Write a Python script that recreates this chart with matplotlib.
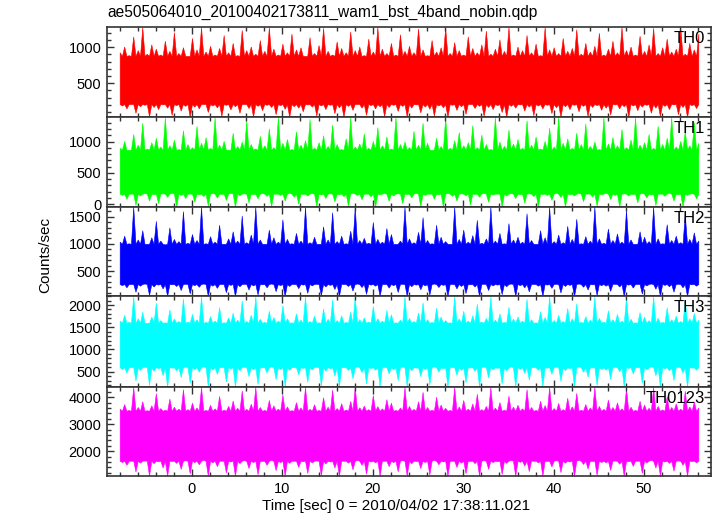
import numpy as np
import matplotlib.pyplot as plt
from matplotlib.ticker import MultipleLocator

plt.rcParams['font.family'] = ['Liberation Sans', 'DejaVu Sans']

# light curves read as half-second spikes (counts/sec)
# upward spikes at -8.0, -7.5, ... 56.0 s ; downward spikes at -7.75, -7.25, ... s
t_start = -8
step = 0.5

bands = ['TH0', 'TH1', 'TH2', 'TH3', 'TH0123']
colors = ['#ff0000', '#00ff00', '#0000ff', '#00ffff', '#ff00ff']

th0_hi = [930, 1010, 890, 1150, 960, 1280, 910, 1040, 980, 900,
          1090, 950, 1210, 920, 1000, 880, 1130, 970, 1280, 940,
          1020, 900, 990, 1170, 930, 1060, 890, 1240, 960, 1010,
          910, 1100, 950, 1280, 980, 900, 1050, 930, 1190, 970,
          1000, 880, 1140, 920, 1030, 1270, 950, 900, 1080, 990,
          930, 1220, 960, 1010, 890, 1120, 940, 1280, 980, 920,
          1060, 900, 1180, 950, 1020, 930, 1260, 970, 890, 1100,
          940, 1000, 1280, 920, 1070, 960, 900, 1150, 990, 930,
          1040, 1230, 910, 980, 1110, 950, 1280, 900, 1010, 960,
          1170, 930, 1050, 890, 1280, 970, 1000, 920, 1130, 950,
          990, 1250, 910, 1060, 940, 1020, 1200, 900, 980, 1090,
          930, 1280, 960, 1010, 900, 1160, 950, 1040, 1270, 920,
          1000, 1120, 940, 980, 1280, 910, 1060, 970, 1190]
th0_lo = [190, 150, 210, 90, 180, 200, 40, 170, 140, 205,
          160, 60, 195, 120, 185, 30, 175, 150, 210, 100,
          190, 165, 45, 200, 135, 180, 90, 210, 155, 35,
          185, 125, 200, 170, 70, 195, 145, 30, 180, 160,
          110, 205, 175, 50, 190, 140, 200, 85, 165, 30,
          185, 130, 210, 160, 60, 195, 150, 180, 40, 170,
          200, 115, 185, 35, 160, 205, 95, 175, 145, 50,
          190, 165, 30, 200, 130, 180, 75, 210, 155, 185,
          45, 170, 140, 195, 100, 30, 185, 160, 205, 120,
          175, 55, 190, 150, 200, 85, 165, 30, 180, 140,
          200, 110, 185, 40, 170, 195, 130, 160, 65, 205,
          150, 180, 30, 190, 125, 175, 200, 90, 160, 45,
          185, 140, 205, 70, 170, 30, 195, 155]

th1_hi = [900, 1010, 870, 1120, 950, 1300, 890, 990, 1060, 920,
          1390, 940, 1030, 880, 1180, 960, 910, 1250, 980, 1070,
          900, 1390, 950, 1010, 870, 1140, 930, 1000, 1330, 960,
          890, 1090, 940, 1210, 910, 1390, 980, 1040, 880, 1160,
          950, 1020, 1360, 900, 990, 1100, 930, 1270, 960, 880,
          1050, 1390, 920, 970, 1130, 900, 1010, 1230, 940, 1080,
          890, 1390, 960, 1000, 910, 1170, 950, 1300, 980, 870,
          1060, 930, 1390, 900, 1020, 1150, 940, 990, 1260, 910,
          1110, 960, 880, 1390, 1000, 930, 1190, 970, 1040, 900,
          1340, 950, 1080, 890, 1010, 1220, 920, 1390, 980, 1050,
          900, 1140, 960, 1290, 930, 1000, 880, 1390, 970, 1070,
          940, 1200, 910, 1030, 1390, 950, 990, 1120, 900, 1250,
          960, 1060, 1390, 920, 1010, 1170, 940, 1310, 980]
th1_lo = [150, 90, 170, -10, 140, 180, 60, 160, 20, 175,
          120, 185, -40, 150, 100, 170, 40, 160, 130, -20,
          180, 110, 165, 70, 185, -40, 145, 175, 30, 160,
          95, 180, 135, -30, 170, 150, 60, 185, 120, 10,
          165, 140, 180, -40, 155, 100, 175, 45, 160, 130,
          -20, 185, 150, 80, 170, 125, -40, 160, 180, 55,
          140, 175, 20, 165, 110, 185, -35, 150, 170, 90,
          160, -40, 180, 135, 60, 175, 145, 0, 165, 120,
          185, 40, 155, 170, -40, 140, 180, 100, 160, 25,
          175, 130, -30, 165, 150, 70, 185, 115, -40, 160,
          140, 180, 50, 170, 125, -20, 160, 185, 85, 150,
          -40, 175, 140, 165, 30, 180, 110, 155, -10, 170,
          135, 185, 60, 160, -40, 150, 175, 95]

th2_hi = [1040, 1150, 1010, 1680, 1080, 1250, 1000, 1120, 1420, 1060,
          990, 1300, 1090, 1050, 1600, 1020, 1180, 1070, 1680, 1010,
          1140, 1040, 1350, 1000, 1100, 1230, 1060, 1520, 1030, 1170,
          1680, 1080, 1000, 1260, 1120, 1040, 1450, 1090, 1010, 1200,
          1060, 1680, 1030, 1130, 1000, 1320, 1080, 1580, 1050, 1150,
          1010, 1240, 1680, 1070, 1110, 1020, 1400, 1090, 1040, 1290,
          1180, 1000, 1060, 1680, 1100, 1030, 1220, 1490, 1070, 1010,
          1350, 1130, 1050, 1000, 1680, 1090, 1260, 1040, 1160, 1440,
          1020, 1100, 1680, 1060, 1200, 1010, 1380, 1080, 1130, 1040,
          1560, 1070, 1000, 1250, 1120, 1680, 1050, 1170, 1030, 1330,
          1090, 1460, 1010, 1140, 1060, 1680, 1100, 1020, 1280, 1070,
          1190, 1040, 1620, 1080, 1000, 1230, 1130, 1050, 1680, 1100,
          1010, 1360, 1070, 1150, 1030, 1540, 1090, 1210, 1060]
th2_lo = [240, 200, 260, 120, 230, 270, 60, 215, 250, 180,
          40, 255, 225, 150, 265, 90, 240, 210, 270, 45,
          230, 190, 260, 110, 245, 40, 220, 265, 160, 235,
          70, 255, 200, 270, 130, 240, 40, 225, 260, 185,
          250, 100, 235, 265, 55, 215, 245, 170, 40, 260,
          225, 140, 270, 205, 80, 250, 230, 40, 260, 195,
          240, 115, 265, 40, 220, 250, 165, 235, 65, 270,
          205, 245, 40, 260, 180, 225, 95, 255, 215, 40,
          265, 150, 235, 250, 75, 220, 270, 40, 240, 200,
          125, 260, 230, 40, 250, 190, 265, 105, 225, 245,
          40, 270, 210, 160, 255, 60, 240, 230, 135, 265,
          215, 40, 250, 195, 260, 85, 235, 270, 175, 40,
          245, 220, 120, 265, 200, 40, 255, 230]

th3_hi = [1650, 1780, 1620, 2200, 1700, 1850, 1600, 1740, 2050, 1660,
          1610, 1900, 1700, 1640, 2150, 1630, 1800, 1680, 2200, 1620,
          1750, 1650, 1950, 1610, 1720, 1830, 1670, 2100, 1640, 1780,
          2200, 1690, 1620, 1870, 1730, 1650, 2000, 1700, 1610, 1810,
          1670, 2200, 1640, 1760, 1610, 1920, 1690, 2120, 1660, 1770,
          1620, 1850, 2200, 1680, 1720, 1630, 1980, 1700, 1650, 1890,
          1790, 1610, 1670, 2200, 1710, 1640, 1830, 2060, 1680, 1620,
          1940, 1740, 1660, 1610, 2200, 1700, 1870, 1650, 1770, 2030,
          1630, 1710, 2200, 1670, 1810, 1620, 1960, 1690, 1740, 1650,
          2140, 1680, 1610, 1860, 1730, 2200, 1660, 1780, 1640, 1930,
          1700, 2040, 1620, 1750, 1670, 2200, 1710, 1630, 1880, 1680,
          1800, 1650, 2170, 1690, 1610, 1840, 1740, 1660, 2200, 1710,
          1620, 1950, 1680, 1760, 1640, 2110, 1700, 1820, 1670]
th3_lo = [560, 480, 600, 300, 540, 610, 200, 520, 580, 420,
          160, 590, 530, 380, 615, 250, 560, 500, 620, 170,
          550, 450, 600, 280, 570, 160, 530, 610, 400, 555,
          220, 595, 480, 620, 330, 560, 160, 540, 600, 440,
          585, 270, 550, 610, 190, 520, 575, 410, 160, 600,
          540, 350, 620, 490, 240, 580, 545, 160, 605, 460,
          560, 310, 615, 160, 530, 590, 400, 555, 210, 620,
          500, 575, 160, 600, 430, 540, 260, 595, 520, 160,
          615, 370, 555, 585, 230, 530, 620, 160, 565, 470,
          320, 600, 545, 160, 590, 450, 615, 290, 535, 575,
          160, 620, 500, 390, 595, 200, 560, 545, 340, 610,
          510, 160, 585, 460, 600, 250, 550, 620, 420, 160,
          575, 530, 310, 610, 480, 160, 590, 545]

th0123_hi = [3580, 3750, 3530, 4380, 3640, 3850, 3520, 3700, 4150, 3600,
             3540, 3950, 3650, 3580, 4300, 3560, 3800, 3620, 4380, 3530,
             3720, 3590, 4050, 3540, 3680, 3880, 3610, 4250, 3570, 3760,
             4380, 3640, 3530, 3900, 3700, 3580, 4100, 3660, 3520, 3820,
             3620, 4380, 3570, 3740, 3530, 4000, 3650, 4280, 3600, 3780,
             3550, 3860, 4380, 3630, 3690, 3560, 4080, 3670, 3590, 3930,
             3800, 3530, 3620, 4380, 3680, 3570, 3850, 4200, 3640, 3540,
             4020, 3730, 3610, 3530, 4380, 3660, 3900, 3580, 3770, 4130,
             3560, 3680, 4380, 3620, 3820, 3540, 4060, 3650, 3720, 3590,
             4300, 3640, 3530, 3870, 3710, 4380, 3600, 3790, 3560, 3980,
             3660, 4160, 3540, 3750, 3620, 4380, 3680, 3570, 3910, 3640,
             3810, 3590, 4330, 3650, 3530, 3870, 3730, 3610, 4380, 3680,
             3550, 4040, 3640, 3770, 3580, 4240, 3660, 3840, 3620]
th0123_lo = [1600, 1500, 1650, 1250, 1580, 1660, 1100, 1560, 1630, 1400,
             1090, 1640, 1570, 1350, 1670, 1180, 1600, 1520, 1680, 1100,
             1590, 1450, 1650, 1220, 1620, 1090, 1560, 1670, 1380, 1600,
             1150, 1640, 1500, 1680, 1300, 1600, 1090, 1570, 1650, 1420,
             1630, 1200, 1590, 1660, 1120, 1550, 1620, 1400, 1090, 1650,
             1580, 1330, 1680, 1500, 1170, 1620, 1590, 1090, 1650, 1450,
             1600, 1260, 1670, 1090, 1560, 1640, 1380, 1600, 1140, 1680,
             1520, 1620, 1090, 1650, 1420, 1580, 1190, 1640, 1560, 1100,
             1670, 1350, 1600, 1630, 1160, 1570, 1680, 1090, 1610, 1470,
             1270, 1650, 1590, 1090, 1640, 1440, 1670, 1230, 1580, 1620,
             1090, 1680, 1530, 1360, 1640, 1130, 1600, 1590, 1310, 1660,
             1540, 1090, 1630, 1460, 1650, 1200, 1590, 1680, 1400, 1100,
             1620, 1570, 1280, 1660, 1500, 1090, 1640, 1590]

# edges of the dense (solid looking) part of each band
notch_hi = [880, 870, 1000, 1600, 3500]
notch_lo = [210, 170, 260, 600, 1650]

his = [th0_hi, th1_hi, th2_hi, th3_hi, th0123_hi]
los = [th0_lo, th1_lo, th2_lo, th3_lo, th0123_lo]

ylims = [(30, 1282), (-43, 1392), (40, 1678), (155, 2203), (1085, 4380)]
yticks = [[500, 1000], [0, 500, 1000], [500, 1000, 1500],
          [500, 1000, 1500, 2000], [2000, 3000, 4000]]
yminor = [100, 100, 100, 100, 200]

fig = plt.figure(figsize=(7.17, 5.16), dpi=100)
tops = [27, 117, 207, 296, 387, 476]
left, right = 107 / 717, 711 / 717

axes = []
for i, band in enumerate(bands):
    y0 = 1 - tops[i + 1] / 516
    h = (tops[i + 1] - tops[i]) / 516
    ax = fig.add_axes([left, y0, right - left, h], sharex=axes[0] if axes else None)
    axes.append(ax)

    n = min(len(his[i]), len(los[i]) + 1)
    x = t_start + step / 2 * np.arange(2 * n - 1)
    upper = np.full(2 * n - 1, float(notch_hi[i]))
    lower = np.full(2 * n - 1, float(notch_lo[i]))
    upper[0::2] = his[i][:n]
    lower[1::2] = los[i][:n - 1]
    ax.fill_between(x, lower, upper, color=colors[i], lw=0.4, edgecolor=colors[i])

    ax.set_xlim(-9.4, 57.4)
    ax.set_ylim(*ylims[i])
    ax.set_yticks(yticks[i])
    ax.yaxis.set_minor_locator(MultipleLocator(yminor[i]))
    ax.xaxis.set_major_locator(MultipleLocator(10))
    ax.xaxis.set_minor_locator(MultipleLocator(2))
    ax.tick_params(which='both', direction='in', top=True, right=True,
                   labelsize=10.5, color='#333333', width=1)
    ax.tick_params(which='major', length=5, pad=4)
    ax.tick_params(which='minor', length=3)
    for s in ax.spines.values():
        s.set_linewidth(1.2)
        s.set_color('#333333')
    if i < len(bands) - 1:
        ax.tick_params(labelbottom=False)
    ax.text(0.99, 0.96, band, transform=ax.transAxes, ha='right', va='top', fontsize=12)

fig.text(left, 0.975, 'ae505064010_20100402173811_wam1_bst_4band_nobin.qdp',
         ha='left', va='center', fontsize=11.2)
fig.text(0.063, 0.506, 'Counts/sec', rotation=90, ha='center', va='center', fontsize=11)
fig.text(0.552, 0.019, 'Time [sec] 0 = 2010/04/02 17:38:11.021', ha='center', va='center',
         fontsize=11)

fig.savefig('out.png', dpi=100)
